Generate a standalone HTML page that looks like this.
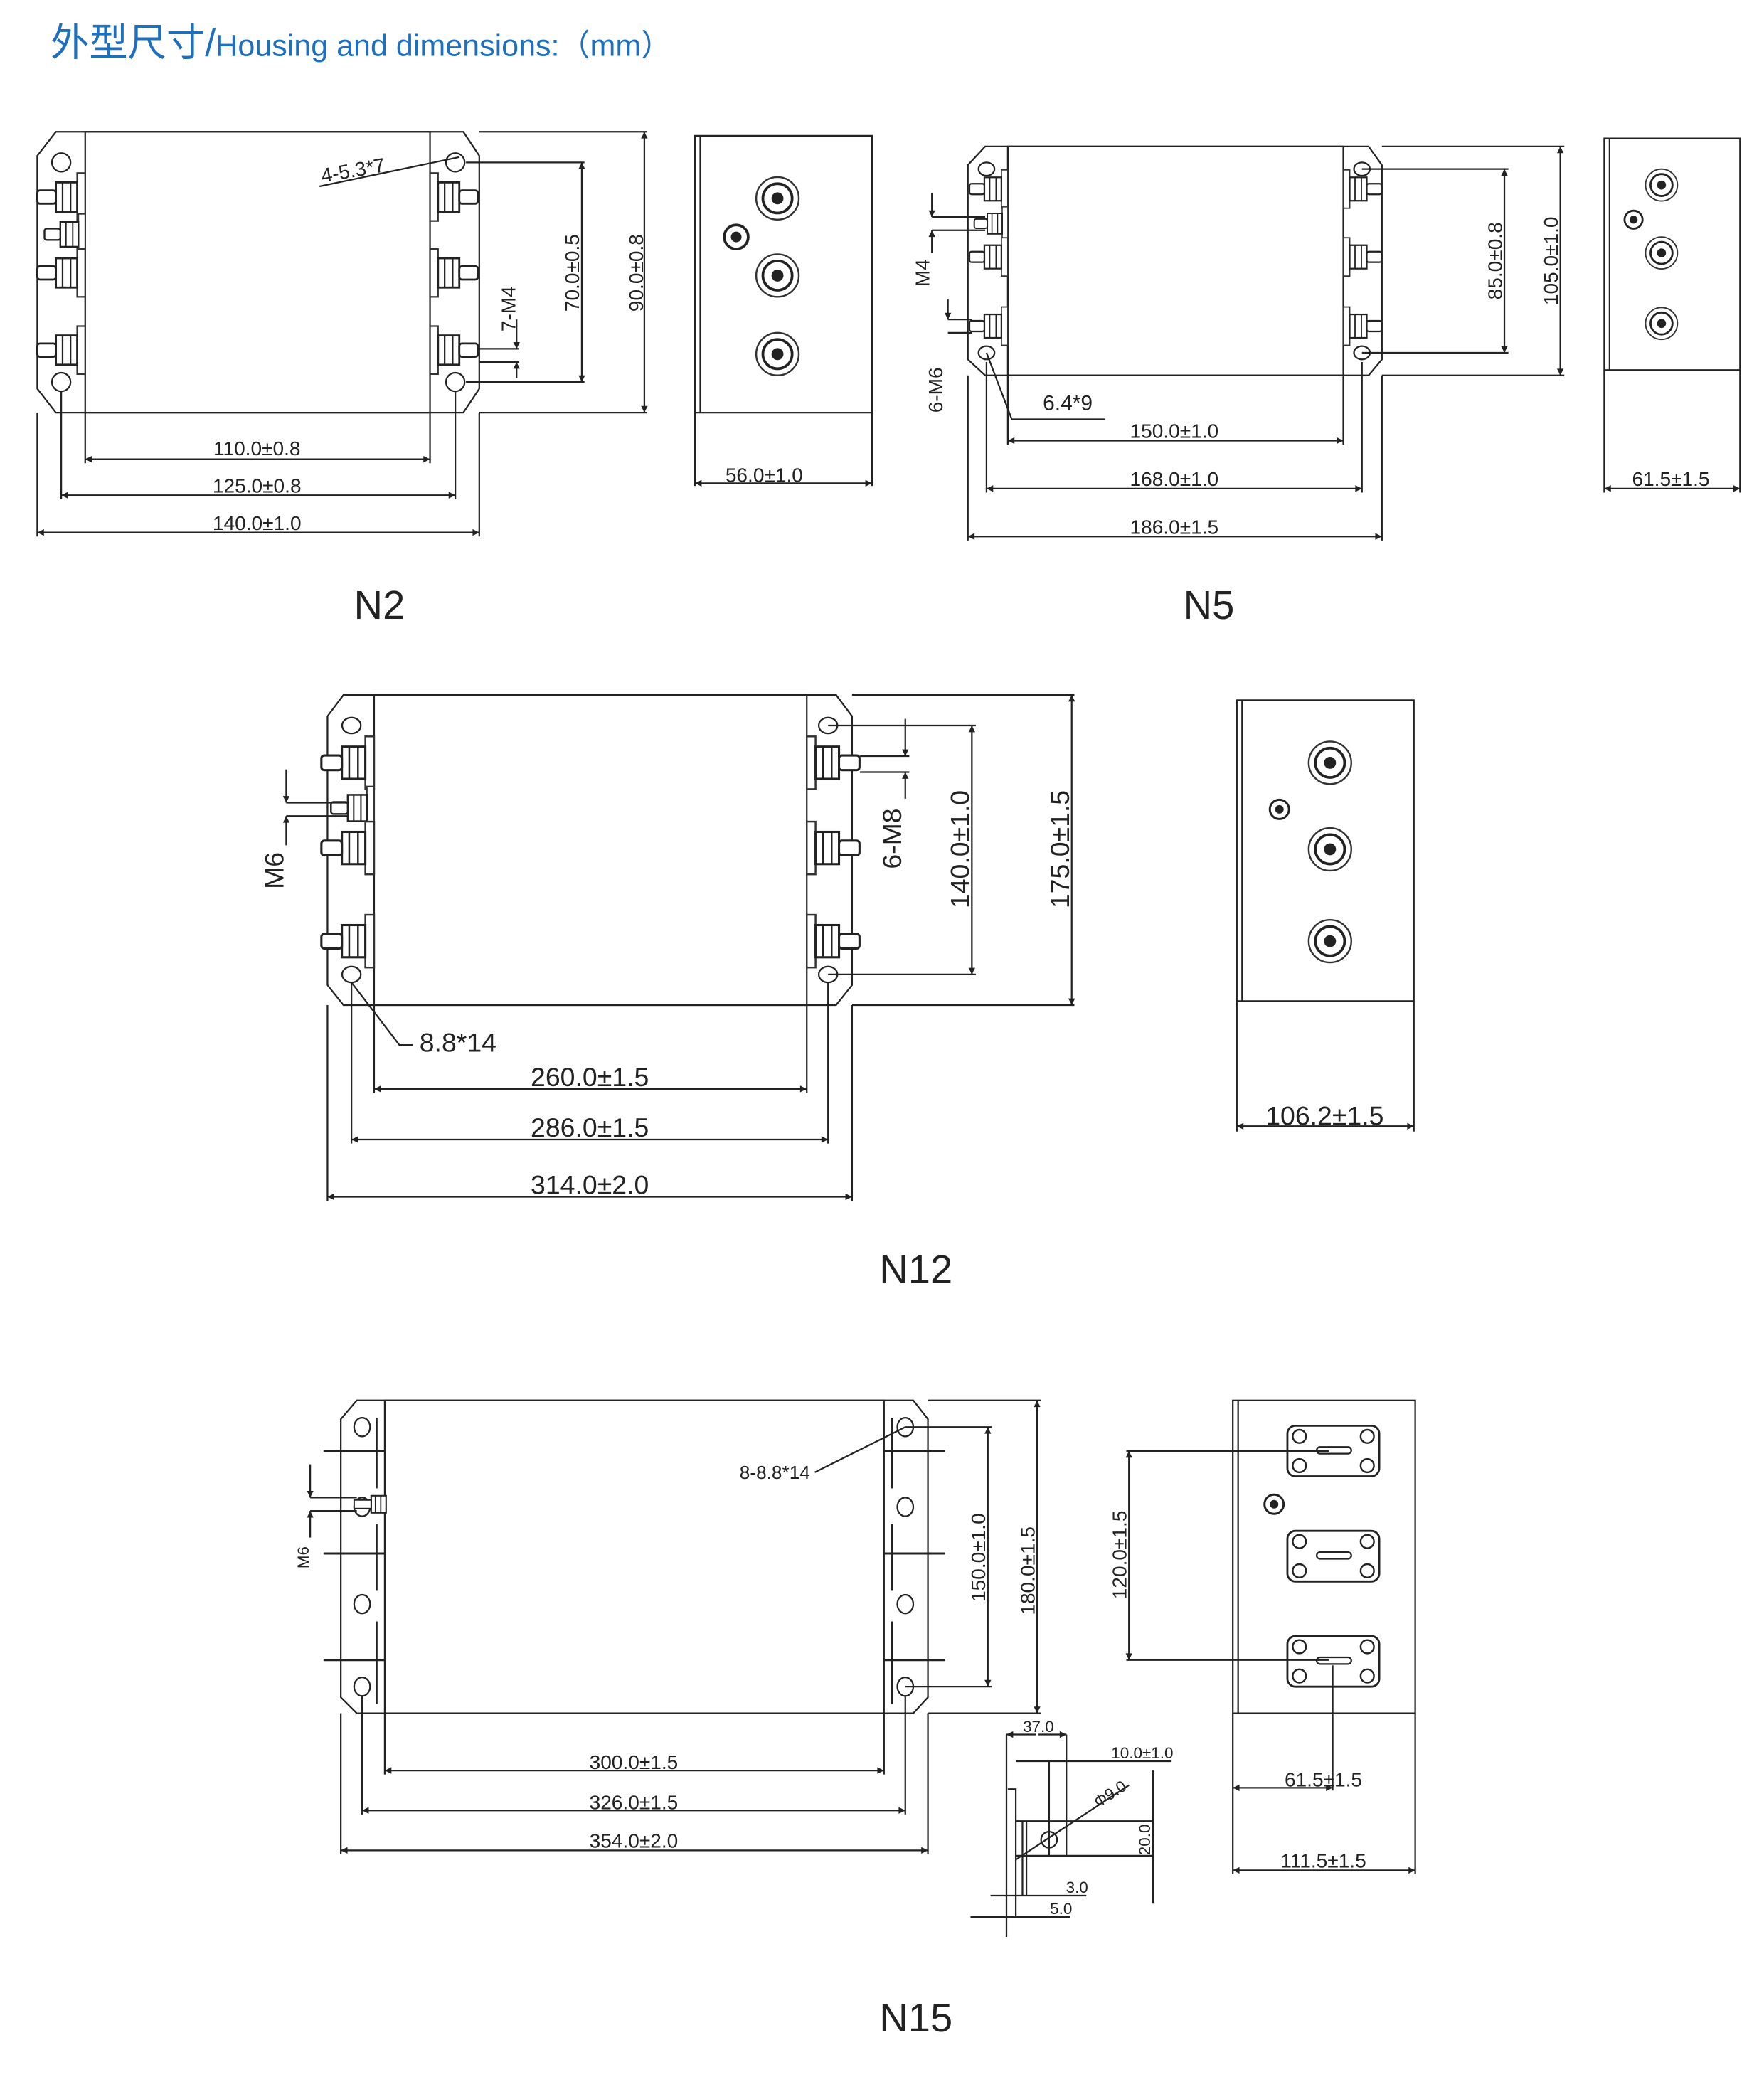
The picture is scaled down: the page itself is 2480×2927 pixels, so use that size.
<!DOCTYPE html>
<html><head><meta charset="utf-8"><style>
html,body{margin:0;padding:0;background:#fff;}
svg{display:block;}
text{font-family:"Liberation Sans",sans-serif;fill:#222;}
</style></head><body>
<svg width="2480" height="2927" viewBox="0 0 1325 1564" preserveAspectRatio="none" xmlns="http://www.w3.org/2000/svg">
<defs>
<marker id="a" viewBox="0 0 10 10" refX="10" refY="5" markerWidth="7" markerHeight="5" orient="auto-start-reverse" markerUnits="userSpaceOnUse"><path d="M0,0L10,5L0,10z" fill="#222"/></marker>
<g id="term">
<rect x="-6" y="-18" width="6" height="36" fill="#fff" stroke="#333" stroke-width="1.2"/>
<rect x="-22" y="-11" width="16" height="22" fill="#fff" stroke="#222" stroke-width="1.5"/>
<line x1="-17" y1="-11" x2="-17" y2="11" stroke="#222"/><line x1="-11" y1="-11" x2="-11" y2="11" stroke="#222"/>
<rect x="-36" y="-5" width="14" height="10" rx="2" fill="#fff" stroke="#222" stroke-width="1.5"/>
</g>
<g id="stud">
<rect x="-14" y="-8" width="14" height="16" fill="#fff" stroke="#222" stroke-width="1.4"/>
<line x1="-10" y1="-8" x2="-10" y2="8" stroke="#222"/><line x1="-5" y1="-8" x2="-5" y2="8" stroke="#222"/>
<rect x="-30" y="-4" width="16" height="8" fill="#fff" stroke="#222" stroke-width="1.3"/>
</g>
<g id="bigc"><circle r="16" fill="#fff" stroke="#333" stroke-width="1.3"/><circle r="11" fill="#fff" stroke="#222" stroke-width="2"/><circle r="4.5" fill="#222"/></g>
<g id="smc"><circle r="9" fill="#fff" stroke="#222" stroke-width="2"/><circle r="4" fill="#222"/></g>
<g id="plate">
<rect x="0" y="0" width="69" height="38" rx="6" fill="#fff" stroke="#222" stroke-width="1.5"/>
<circle cx="9" cy="8" r="5" fill="none" stroke="#222" stroke-width="1.3"/><circle cx="60" cy="8" r="5" fill="none" stroke="#222" stroke-width="1.3"/>
<circle cx="9" cy="30" r="5" fill="none" stroke="#222" stroke-width="1.3"/><circle cx="60" cy="30" r="5" fill="none" stroke="#222" stroke-width="1.3"/>
<rect x="22" y="16" width="26" height="5" rx="2.5" fill="none" stroke="#222" stroke-width="1.2"/>
</g>
</defs>

<text x="38" y="42" font-size="29" style="fill:#1f6fbf;font-family:'Liberation Sans','Noto Sans CJK SC',sans-serif">外型尺寸/<tspan font-size="23">Housing and dimensions:（mm）</tspan></text>

<g stroke="#222" stroke-width="1.2" fill="none">
<!-- ===== N2 ===== -->
<polygon points="42,99 348,99 360,117 360,292 348,310 42,310 28,292 28,117"/>
<rect x="64" y="99" width="259" height="211"/>
<circle cx="46" cy="122" r="7"/><circle cx="342" cy="122" r="7"/><circle cx="46" cy="287" r="7"/><circle cx="342" cy="287" r="7"/>
<use href="#term" transform="translate(64,148)"/><use href="#term" transform="translate(64,176) scale(0.85)"/><use href="#term" transform="translate(64,205)"/><use href="#term" transform="translate(64,263)"/>
<use href="#term" transform="translate(323,148) scale(-1,1)"/><use href="#term" transform="translate(323,205) scale(-1,1)"/><use href="#term" transform="translate(323,263) scale(-1,1)"/>
<path d="M360,99H486M360,310H486M350,122H439M350,287H439M360,262H390M360,272H390"/>
<line x1="484" y1="99" x2="484" y2="310" marker-start="url(#a)" marker-end="url(#a)"/>
<line x1="437" y1="122" x2="437" y2="287" marker-start="url(#a)" marker-end="url(#a)"/>
<line x1="388" y1="240" x2="388" y2="262" marker-end="url(#a)"/><line x1="388" y1="284" x2="388" y2="272" marker-end="url(#a)"/>
<path d="M240,140L345,118"/>
<path d="M64,310V348M323,310V348M46,294V375M342,294V375M28,310V403M360,310V403"/>
<line x1="64" y1="345" x2="323" y2="345" marker-start="url(#a)" marker-end="url(#a)"/>
<line x1="46" y1="372" x2="342" y2="372" marker-start="url(#a)" marker-end="url(#a)"/>
<line x1="28" y1="400" x2="360" y2="400" marker-start="url(#a)" marker-end="url(#a)"/>
<!-- N2 side -->
<rect x="522" y="102" width="133" height="208"/><path d="M522,310V365M655,310V365M526,102V310"/>
<line x1="522" y1="363" x2="655" y2="363" marker-start="url(#a)" marker-end="url(#a)"/>

<!-- ===== N5 ===== -->
<polygon points="740,110 1028,110 1038,124 1038,270 1028,282 740,282 727,270 727,124"/>
<rect x="757" y="110" width="252" height="172"/>
<ellipse cx="741" cy="127" rx="6" ry="5"/><ellipse cx="1023" cy="127" rx="6" ry="5"/><ellipse cx="741" cy="265" rx="6" ry="5"/><ellipse cx="1023" cy="265" rx="6" ry="5"/>
<use href="#term" transform="translate(757,142) scale(0.8)"/><use href="#term" transform="translate(757,168) scale(0.7)"/><use href="#term" transform="translate(757,193) scale(0.8)"/><use href="#term" transform="translate(757,245) scale(0.8)"/>
<use href="#term" transform="translate(1009,142) scale(-0.8,0.8)"/><use href="#term" transform="translate(1009,193) scale(-0.8,0.8)"/><use href="#term" transform="translate(1009,245) scale(-0.8,0.8)"/>
<path d="M1038,110H1175M1038,282H1175M1023,127H1133M1023,265H1133M700,163H740M700,173H740M712,240H730M712,250H730"/>
<line x1="1172" y1="110" x2="1172" y2="282" marker-start="url(#a)" marker-end="url(#a)"/>
<line x1="1130" y1="127" x2="1130" y2="265" marker-start="url(#a)" marker-end="url(#a)"/>
<line x1="700" y1="145" x2="700" y2="163" marker-end="url(#a)"/><line x1="700" y1="190" x2="700" y2="173" marker-end="url(#a)"/>
<line x1="712" y1="225" x2="712" y2="240" marker-end="url(#a)"/>
<path d="M741,265L760,315H830"/>
<path d="M757,282V334M1009,282V334M741,272V370M1023,272V370M727,282V406M1038,282V406"/>
<line x1="757" y1="331" x2="1009" y2="331" marker-start="url(#a)" marker-end="url(#a)"/>
<line x1="741" y1="367" x2="1023" y2="367" marker-start="url(#a)" marker-end="url(#a)"/>
<line x1="727" y1="403" x2="1038" y2="403" marker-start="url(#a)" marker-end="url(#a)"/>
<!-- N5 side -->
<rect x="1205" y="104" width="102" height="174"/><path d="M1205,278V370M1307,278V370M1209,104V278"/>
<line x1="1205" y1="367" x2="1307" y2="367" marker-start="url(#a)" marker-end="url(#a)"/>

<!-- ===== N12 ===== -->
<polygon points="258,522 628,522 640,538 640,740 628,755 258,755 246,740 246,538"/>
<rect x="281" y="522" width="325" height="233"/>
<ellipse cx="264" cy="545" rx="7" ry="6"/><ellipse cx="622" cy="545" rx="7" ry="6"/><ellipse cx="264" cy="732" rx="7" ry="6"/><ellipse cx="622" cy="732" rx="7" ry="6"/>
<use href="#term" transform="translate(281,573) scale(1.1)"/><use href="#term" transform="translate(281,607) scale(0.9)"/><use href="#term" transform="translate(281,637) scale(1.1)"/><use href="#term" transform="translate(281,707) scale(1.1)"/>
<use href="#term" transform="translate(606,573) scale(-1.1,1.1)"/><use href="#term" transform="translate(606,637) scale(-1.1,1.1)"/><use href="#term" transform="translate(606,707) scale(-1.1,1.1)"/>
<path d="M640,522H807M640,755H807M622,545H733M622,732H733M646,568H683M646,580H683M215,603H262M215,613H262"/>
<line x1="805" y1="522" x2="805" y2="755" marker-start="url(#a)" marker-end="url(#a)"/>
<line x1="730" y1="545" x2="730" y2="732" marker-start="url(#a)" marker-end="url(#a)"/>
<line x1="680" y1="540" x2="680" y2="568" marker-end="url(#a)"/><line x1="680" y1="600" x2="680" y2="580" marker-end="url(#a)"/>
<line x1="215" y1="578" x2="215" y2="603" marker-end="url(#a)"/><line x1="215" y1="635" x2="215" y2="613" marker-end="url(#a)"/>
<path d="M264,738L300,785H310"/>
<path d="M281,755V821M606,755V821M264,738V859M622,738V859M246,755V902M640,755V902"/>
<line x1="281" y1="818" x2="606" y2="818" marker-start="url(#a)" marker-end="url(#a)"/>
<line x1="264" y1="856" x2="622" y2="856" marker-start="url(#a)" marker-end="url(#a)"/>
<line x1="246" y1="899" x2="640" y2="899" marker-start="url(#a)" marker-end="url(#a)"/>
<!-- N12 side -->
<rect x="929" y="526" width="133" height="226"/><path d="M929,752V850M1062,752V850M933,526V752"/>
<line x1="929" y1="846" x2="1062" y2="846" marker-start="url(#a)" marker-end="url(#a)"/>

<!-- ===== N15 ===== -->
<polygon points="268,1052 686,1052 697,1066 697,1275 686,1287 268,1287 256,1275 256,1066"/>
<rect x="289" y="1052" width="375" height="235"/>
<ellipse cx="272" cy="1072" rx="6" ry="7"/><ellipse cx="272" cy="1132" rx="6" ry="7"/><ellipse cx="272" cy="1205" rx="6" ry="7"/><ellipse cx="272" cy="1267" rx="6" ry="7"/>
<ellipse cx="680" cy="1072" rx="6" ry="7"/><ellipse cx="680" cy="1132" rx="6" ry="7"/><ellipse cx="680" cy="1205" rx="6" ry="7"/><ellipse cx="680" cy="1267" rx="6" ry="7"/>
<path d="M283,1065V1118M283,1145V1195M283,1218V1280M670,1065V1118M670,1145V1195M670,1218V1280"/>
<path d="M243,1090H289M243,1167H289M243,1247H289M664,1090H710M664,1167H710M664,1247H710" stroke-width="1.6"/>
<use href="#stud" transform="translate(290,1130) scale(0.8)"/>
<path d="M697,1052H782M697,1287H782M680,1072H745M680,1267H745M233,1125H268M233,1135H268"/>
<line x1="779" y1="1052" x2="779" y2="1287" marker-start="url(#a)" marker-end="url(#a)"/>
<line x1="742" y1="1072" x2="742" y2="1267" marker-start="url(#a)" marker-end="url(#a)"/>
<line x1="233" y1="1100" x2="233" y2="1125" marker-end="url(#a)"/><line x1="233" y1="1155" x2="233" y2="1135" marker-end="url(#a)"/>
<path d="M612,1106L680,1072"/>
<path d="M289,1287V1333M664,1287V1333M272,1274V1363M680,1274V1363M256,1287V1393M697,1287V1393"/>
<line x1="289" y1="1330" x2="664" y2="1330" marker-start="url(#a)" marker-end="url(#a)"/>
<line x1="272" y1="1360" x2="680" y2="1360" marker-start="url(#a)" marker-end="url(#a)"/>
<line x1="256" y1="1390" x2="697" y2="1390" marker-start="url(#a)" marker-end="url(#a)"/>
<!-- N15 side -->
<rect x="926" y="1052" width="137" height="235"/><path d="M926,1287V1408M1063,1287V1408M930,1052V1287"/>
<use href="#plate" transform="translate(967,1071)"/><use href="#plate" transform="translate(967,1150)"/><use href="#plate" transform="translate(967,1229)"/>
<path d="M846,1090H998M846,1247H998M1001,1251V1345"/>
<line x1="848" y1="1090" x2="848" y2="1247" marker-start="url(#a)" marker-end="url(#a)"/>
<line x1="926" y1="1343" x2="1001" y2="1343" marker-start="url(#a)" marker-end="url(#a)"/>
<line x1="926" y1="1405" x2="1063" y2="1405" marker-start="url(#a)" marker-end="url(#a)"/>
<!-- bracket detail -->
<path d="M756,1303V1455M801,1303V1394M757,1344H763V1440H757M763,1368H866M763,1394H866M768,1368V1424M771,1368V1424M788,1323V1394M763,1323H880M744,1424H816M729,1440H804M866,1330V1430"/>
<line x1="778" y1="1303" x2="756" y2="1303" marker-end="url(#a)"/><line x1="780" y1="1303" x2="801" y2="1303" marker-end="url(#a)"/>
<circle cx="788" cy="1382" r="6"/>
<path d="M763,1397L848,1341"/>
</g>
<g fill="#222">
<use href="#bigc" x="584" y="149"/><use href="#bigc" x="584" y="207"/><use href="#bigc" x="584" y="266"/><use href="#smc" x="553" y="178"/>
<use href="#bigc" transform="translate(1248,139) scale(0.75)"/><use href="#bigc" transform="translate(1248,190) scale(0.75)"/><use href="#bigc" transform="translate(1248,243) scale(0.75)"/><use href="#smc" transform="translate(1227,165) scale(0.75)"/>
<use href="#bigc" x="999" y="573"/><use href="#bigc" x="999" y="638"/><use href="#bigc" x="999" y="707"/><use href="#smc" transform="translate(961,608) scale(0.8)"/>
<use href="#smc" transform="translate(957,1130) scale(0.8)"/>
</g>

<g font-size="15" text-anchor="middle">
<text x="193" y="342">110.0±0.8</text><text x="193" y="370">125.0±0.8</text><text x="193" y="398">140.0±1.0</text>
<text x="574" y="362">56.0±1.0</text>
<text transform="translate(483,205) rotate(-90)">90.0±0.8</text>
<text transform="translate(435,205) rotate(-90)">70.0±0.5</text>
<text transform="translate(387,232) rotate(-90)">7-M4</text>
<text transform="translate(266,133) rotate(-10)">4-5.3*7</text>
<text x="882" y="329">150.0±1.0</text><text x="882" y="365">168.0±1.0</text><text x="882" y="401">186.0±1.5</text>
<text x="1255" y="365">61.5±1.5</text>
<text transform="translate(1170,196) rotate(-90)">105.0±1.0</text>
<text transform="translate(1128,196) rotate(-90)">85.0±0.8</text>
<text transform="translate(698,205) rotate(-90)">M4</text>
<text transform="translate(708,293) rotate(-90)">6-M6</text>
<text x="802" y="308" font-size="16">6.4*9</text>
<text x="476" y="1329">300.0±1.5</text><text x="476" y="1359">326.0±1.5</text><text x="476" y="1388">354.0±2.0</text>
<text x="994" y="1342">61.5±1.5</text><text x="994" y="1403">111.5±1.5</text>
<text transform="translate(777,1180) rotate(-90)">180.0±1.5</text>
<text transform="translate(740,1170) rotate(-90)">150.0±1.0</text>
<text transform="translate(846,1168) rotate(-90)">120.0±1.5</text>
<text transform="translate(232,1170) rotate(-90)" font-size="12">M6</text>
<text x="582" y="1111" font-size="14">8-8.8*14</text>
<text x="780" y="1301" font-size="12">37.0</text>
<text x="858" y="1321" font-size="12">10.0±1.0</text>
<text x="809" y="1422" font-size="12">3.0</text>
<text x="797" y="1438" font-size="12">5.0</text>
<text transform="translate(864,1382) rotate(-90)" font-size="12">20.0</text>
<text transform="translate(836,1351) rotate(-33)" font-size="12">Φ9.0</text>
</g>
<g font-size="20" text-anchor="middle">
<text x="443" y="816">260.0±1.5</text><text x="443" y="854">286.0±1.5</text><text x="443" y="897">314.0±2.0</text>
<text x="995" y="845">106.2±1.5</text>
<text transform="translate(803,638) rotate(-90)">175.0±1.5</text>
<text transform="translate(728,638) rotate(-90)">140.0±1.0</text>
<text transform="translate(677,630) rotate(-90)">6-M8</text>
<text transform="translate(213,654) rotate(-90)">M6</text>
<text x="344" y="790">8.8*14</text>
</g>
<g font-size="30" text-anchor="middle">
<text x="285" y="465">N2</text><text x="908" y="465">N5</text><text x="688" y="964">N12</text><text x="688" y="1526">N15</text>
</g>
</svg>
</body></html>
